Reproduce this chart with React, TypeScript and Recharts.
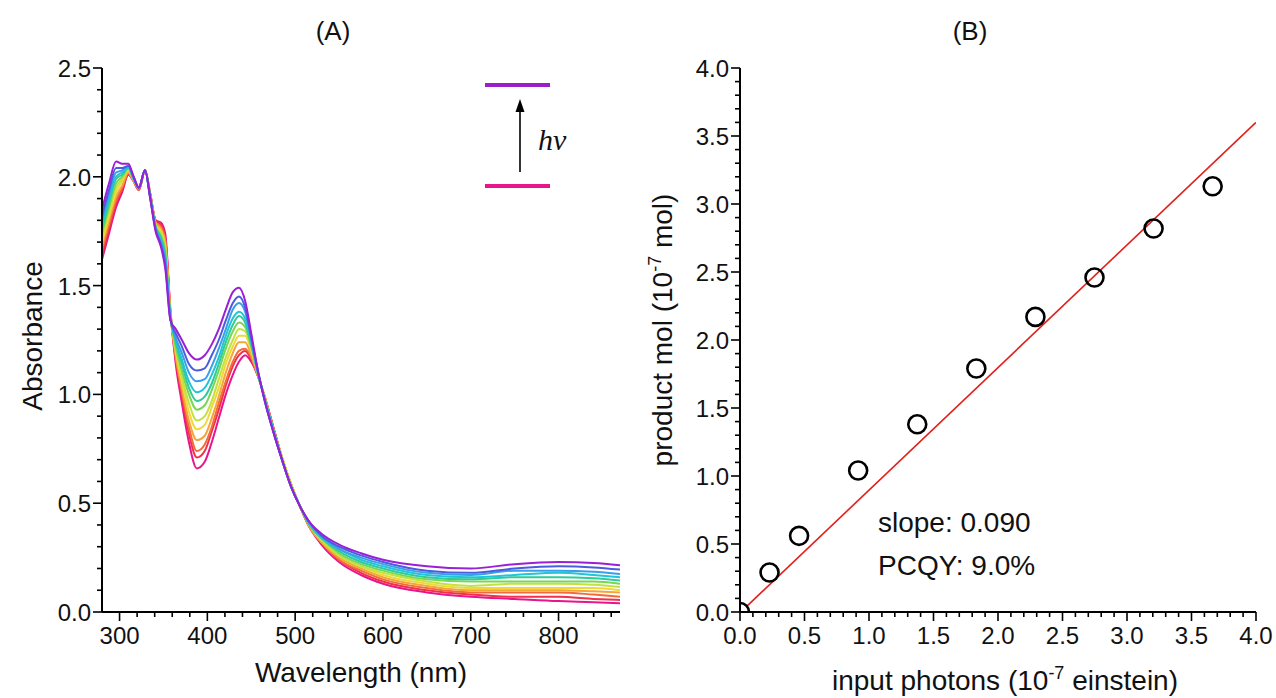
import React from "react";
import { LineChart, Line, XAxis, YAxis, ComposedChart, Scatter } from "recharts";

// ---- panel A: absorption spectra during irradiation ----
const wavelengths = [280, 288, 296, 303, 310, 316, 322, 329, 335, 341, 347, 352, 358, 364, 371, 379, 388, 397, 405, 413, 421, 429, 436, 443, 450, 458, 466, 475, 485, 495, 505, 515, 530, 550, 575, 600, 650, 700, 750, 800, 840, 870];

const scan00 = [1.62, 1.74, 1.86, 1.93, 2.01, 1.98, 1.94, 2.03, 1.92, 1.80, 1.79, 1.74, 1.38, 1.14, 0.96, 0.78, 0.66, 0.69, 0.78, 0.89, 1.00, 1.09, 1.15, 1.18, 1.15, 1.08, 0.98, 0.85, 0.71, 0.59, 0.49, 0.40, 0.31, 0.23, 0.17, 0.13, 0.09, 0.07, 0.06, 0.05, 0.045, 0.04];
const scan01 = [1.64, 1.76, 1.88, 1.94, 2.01, 1.98, 1.94, 2.03, 1.92, 1.80, 1.78, 1.72, 1.38, 1.16, 0.99, 0.82, 0.71, 0.74, 0.83, 0.93, 1.04, 1.13, 1.18, 1.20, 1.16, 1.08, 0.98, 0.85, 0.71, 0.59, 0.49, 0.40, 0.32, 0.24, 0.18, 0.14, 0.10, 0.08, 0.07, 0.07, 0.06, 0.055];
const scan02 = [1.66, 1.78, 1.89, 1.95, 2.02, 1.98, 1.94, 2.03, 1.92, 1.79, 1.77, 1.71, 1.37, 1.17, 1.01, 0.85, 0.74, 0.77, 0.85, 0.96, 1.06, 1.15, 1.20, 1.21, 1.17, 1.08, 0.98, 0.85, 0.71, 0.59, 0.49, 0.40, 0.32, 0.24, 0.19, 0.15, 0.11, 0.09, 0.09, 0.09, 0.08, 0.07];
const scan03 = [1.68, 1.80, 1.91, 1.96, 2.02, 1.98, 1.95, 2.03, 1.91, 1.79, 1.76, 1.70, 1.37, 1.18, 1.03, 0.88, 0.79, 0.81, 0.89, 0.99, 1.10, 1.19, 1.24, 1.24, 1.18, 1.08, 0.98, 0.84, 0.71, 0.59, 0.49, 0.40, 0.32, 0.25, 0.20, 0.16, 0.12, 0.10, 0.10, 0.10, 0.095, 0.09];
const scan04 = [1.70, 1.82, 1.93, 1.98, 2.03, 1.99, 1.95, 2.03, 1.91, 1.78, 1.75, 1.68, 1.37, 1.20, 1.06, 0.92, 0.84, 0.86, 0.94, 1.03, 1.14, 1.22, 1.27, 1.27, 1.20, 1.09, 0.97, 0.84, 0.71, 0.59, 0.49, 0.41, 0.33, 0.26, 0.21, 0.17, 0.13, 0.11, 0.11, 0.11, 0.11, 0.10];
const scan05 = [1.72, 1.84, 1.95, 1.99, 2.03, 1.99, 1.95, 2.03, 1.91, 1.78, 1.74, 1.67, 1.36, 1.21, 1.08, 0.96, 0.88, 0.90, 0.97, 1.07, 1.17, 1.25, 1.30, 1.29, 1.21, 1.09, 0.97, 0.84, 0.71, 0.59, 0.49, 0.41, 0.33, 0.26, 0.21, 0.18, 0.14, 0.12, 0.13, 0.13, 0.125, 0.115];
const scan06 = [1.74, 1.86, 1.97, 2.00, 2.04, 1.99, 1.95, 2.03, 1.91, 1.77, 1.73, 1.66, 1.36, 1.22, 1.11, 1.00, 0.93, 0.95, 1.02, 1.11, 1.21, 1.29, 1.33, 1.31, 1.22, 1.09, 0.97, 0.84, 0.70, 0.58, 0.49, 0.41, 0.34, 0.27, 0.22, 0.19, 0.15, 0.14, 0.14, 0.14, 0.14, 0.13];
const scan07 = [1.76, 1.88, 1.99, 2.01, 2.04, 1.99, 1.95, 2.03, 1.91, 1.77, 1.72, 1.64, 1.36, 1.24, 1.14, 1.03, 0.97, 0.99, 1.05, 1.14, 1.24, 1.32, 1.36, 1.33, 1.23, 1.09, 0.97, 0.84, 0.70, 0.58, 0.49, 0.41, 0.34, 0.28, 0.23, 0.20, 0.16, 0.15, 0.16, 0.16, 0.155, 0.145];
const scan08 = [1.78, 1.90, 2.00, 2.02, 2.04, 1.99, 1.95, 2.03, 1.91, 1.77, 1.71, 1.63, 1.35, 1.25, 1.16, 1.06, 1.01, 1.03, 1.09, 1.17, 1.27, 1.35, 1.38, 1.35, 1.24, 1.09, 0.97, 0.84, 0.70, 0.58, 0.49, 0.41, 0.34, 0.29, 0.24, 0.21, 0.17, 0.16, 0.17, 0.18, 0.17, 0.16];
const scan09 = [1.80, 1.92, 2.02, 2.03, 2.05, 2.00, 1.95, 2.03, 1.90, 1.76, 1.70, 1.62, 1.35, 1.26, 1.19, 1.10, 1.06, 1.07, 1.13, 1.21, 1.30, 1.39, 1.42, 1.38, 1.25, 1.10, 0.96, 0.83, 0.70, 0.58, 0.49, 0.42, 0.35, 0.29, 0.25, 0.22, 0.18, 0.17, 0.19, 0.19, 0.185, 0.175];
const scan10 = [1.82, 1.94, 2.04, 2.04, 2.05, 2.00, 1.95, 2.03, 1.90, 1.76, 1.69, 1.60, 1.34, 1.28, 1.22, 1.14, 1.11, 1.12, 1.18, 1.25, 1.34, 1.42, 1.45, 1.40, 1.26, 1.10, 0.96, 0.83, 0.70, 0.58, 0.49, 0.42, 0.35, 0.30, 0.26, 0.23, 0.19, 0.18, 0.20, 0.21, 0.205, 0.195];
const scan11 = [1.85, 1.97, 2.07, 2.06, 2.06, 2.00, 1.95, 2.03, 1.90, 1.75, 1.68, 1.58, 1.34, 1.30, 1.25, 1.19, 1.16, 1.18, 1.23, 1.30, 1.39, 1.47, 1.49, 1.43, 1.28, 1.10, 0.96, 0.83, 0.70, 0.58, 0.49, 0.42, 0.36, 0.31, 0.27, 0.24, 0.21, 0.20, 0.22, 0.23, 0.225, 0.215];

const scans = [scan00, scan01, scan02, scan03, scan04, scan05, scan06, scan07, scan08, scan09, scan10, scan11];
const scanColors = ["#e8168c", "#f0304c", "#f46a3a", "#f5a63a", "#f0d83a", "#c4e23e", "#78d655", "#2ecc9a", "#22c4d8", "#3a9ee8", "#4a5ce0", "#9a1fd6"];

const nmTicks = [300, 320, 340, 360, 380, 400, 420, 440, 460, 480, 500, 520, 540, 560, 580, 600, 620, 640, 660, 680, 700, 720, 740, 760, 780, 800, 820, 840, 860];
const absTicks = [0, 0.1, 0.2, 0.3, 0.4, 0.5, 0.6, 0.7, 0.8, 0.9, 1.0, 1.1, 1.2, 1.3, 1.4, 1.5, 1.6, 1.7, 1.8, 1.9, 2.0, 2.1, 2.2, 2.3, 2.4, 2.5];

// ---- panel B: product vs photons ----
const photons = [0, 0.229, 0.458, 0.916, 1.374, 1.832, 2.29, 2.748, 3.206, 3.664];
const productMol = [0, 0.29, 0.56, 1.04, 1.38, 1.79, 2.17, 2.46, 2.82, 3.13];
const fitX = [0.05, 4.0];
const fitY = [0.04, 3.6];
const quarterTicks = [0, 0.1, 0.2, 0.3, 0.4, 0.5, 0.6, 0.7, 0.8, 0.9, 1.0, 1.1, 1.2, 1.3, 1.4, 1.5, 1.6, 1.7, 1.8, 1.9, 2.0, 2.1, 2.2, 2.3, 2.4, 2.5, 2.6, 2.7, 2.8, 2.9, 3.0, 3.1, 3.2, 3.3, 3.4, 3.5, 3.6, 3.7, 3.8, 3.9, 4.0];

const FONT = "'Liberation Sans', Arial, sans-serif";
const TICK_FS = 24;
const TITLE_FS = 28;

const spectraRows = wavelengths.map((nm, j) => {
  const row: Record<string, number> = { nm };
  scans.forEach((s, i) => (row[`s${i}`] = s[j]));
  return row;
});
const points = photons.map((x, i) => ({ x, y: productMol[i] }));
const fitLine = fitX.map((x, i) => ({ x, y: fitY[i] }));

const isHalf = (v: number) => Math.abs(v * 2 - Math.round(v * 2)) < 1e-6;
const isHundred = (v: number) => v % 100 === 0;

function leftTick(major: (v: number) => boolean) {
  return (props: any) => {
    const { x, y, payload } = props;
    const v = payload.value as number;
    const m = major(v);
    return (
      <g>
        <line x1={x} y1={y} x2={x - (m ? 9 : 5)} y2={y} stroke="#000" strokeWidth={1.6} />
        {m && (
          <text x={x - 11} y={y + 9} textAnchor="end" fontSize={TICK_FS} fontFamily={FONT} fill="#111">
            {v.toFixed(1)}
          </text>
        )}
      </g>
    );
  };
}

function bottomTick(major: (v: number) => boolean, fmt: (v: number) => string) {
  return (props: any) => {
    const { x, y, payload } = props;
    const v = payload.value as number;
    const m = major(v);
    return (
      <g>
        <line x1={x} y1={y} x2={x} y2={y + (m ? 9 : 5)} stroke="#000" strokeWidth={1.6} />
        {m && (
          <text x={x} y={y + 32} textAnchor="middle" fontSize={TICK_FS} fontFamily={FONT} fill="#111">
            {fmt(v)}
          </text>
        )}
      </g>
    );
  };
}

const axisLine = { stroke: "#000", strokeWidth: 2 };

function SpectraPanel() {
  return (
    <LineChart width={640} height={698} data={spectraRows} margin={{ top: 68, right: 20, bottom: 26, left: 0 }}>
      <XAxis
        type="number"
        dataKey="nm"
        domain={[280, 870]}
        ticks={nmTicks}
        interval={0}
        height={60}
        tickSize={0}
        tickMargin={0}
        axisLine={axisLine}
        tickLine={false}
        tick={bottomTick(isHundred, (v) => String(v))}
      />
      <YAxis
        type="number"
        domain={[0, 2.5]}
        ticks={absTicks}
        interval={0}
        width={102}
        tickSize={0}
        tickMargin={0}
        axisLine={axisLine}
        tickLine={false}
        tick={leftTick(isHalf)}
      />
      {scans.map((_, i) => (
        <Line
          key={i}
          type="monotone"
          dataKey={`s${i}`}
          stroke={scanColors[i]}
          strokeWidth={2}
          dot={false}
          isAnimationActive={false}
        />
      ))}
      <text x={333} y={40} textAnchor="middle" fontSize={26} fontFamily={FONT} fill="#111">(A)</text>
      <text transform="translate(42,336) rotate(-90)" textAnchor="middle" fontSize={TITLE_FS} fontFamily={FONT} fill="#111">
        Absorbance
      </text>
      <text x={361} y={682} textAnchor="middle" fontSize={TITLE_FS} fontFamily={FONT} fill="#111">
        Wavelength (nm)
      </text>
      {/* irradiation scheme */}
      <line x1={485} y1={85} x2={550} y2={85} stroke="#9a1fc8" strokeWidth={4} />
      <line x1={485} y1={186} x2={550} y2={186} stroke="#e8168c" strokeWidth={4} />
      <line x1={520} y1={172} x2={520} y2={108} stroke="#000" strokeWidth={1.6} />
      <polygon points="520,99 515.5,112 524.5,112" fill="#000" />
      <text x={538} y={150} fontSize={30} fontStyle="italic" fontFamily="'Liberation Serif', serif" fill="#111">
        hν
      </text>
    </LineChart>
  );
}

function YieldPanel() {
  return (
    <ComposedChart width={636} height={698} margin={{ top: 68, right: 20, bottom: 26, left: 0 }}>
      <XAxis
        type="number"
        dataKey="x"
        domain={[0, 4]}
        ticks={quarterTicks}
        interval={0}
        height={60}
        tickSize={0}
        tickMargin={0}
        axisLine={axisLine}
        tickLine={false}
        allowDataOverflow
        tick={bottomTick(isHalf, (v) => v.toFixed(1))}
      />
      <YAxis
        type="number"
        dataKey="y"
        domain={[0, 4]}
        ticks={quarterTicks}
        interval={0}
        width={100}
        tickSize={0}
        tickMargin={0}
        axisLine={axisLine}
        tickLine={false}
        allowDataOverflow
        tick={leftTick(isHalf)}
      />
      <Line data={fitLine} dataKey="y" stroke="#e0201a" strokeWidth={1.6} dot={false} isAnimationActive={false} />
      <Scatter
        data={points}
        dataKey="y"
        isAnimationActive={false}
        shape={(p: any) => <circle cx={p.cx} cy={p.cy} r={9} fill="none" stroke="#000" strokeWidth={2.6} />}
      />
      <text x={330} y={40} textAnchor="middle" fontSize={26} fontFamily={FONT} fill="#111">(B)</text>
      <text transform="translate(32,330) rotate(-90)" textAnchor="middle" fontSize={TITLE_FS} fontFamily={FONT} fill="#111">
        product mol (10
        <tspan fontSize={18} dy={-11}>-7</tspan>
        <tspan dy={11}> mol)</tspan>
      </text>
      <text x={365} y={690} textAnchor="middle" fontSize={TITLE_FS} fontFamily={FONT} fill="#111">
        input photons (10
        <tspan fontSize={18} dy={-11}>-7</tspan>
        <tspan dy={11}> einstein)</tspan>
      </text>
      <text x={238} y={532} fontSize={TITLE_FS} fontFamily={FONT} fill="#111">slope: 0.090</text>
      <text x={238} y={575} fontSize={TITLE_FS} fontFamily={FONT} fill="#111">PCQY: 9.0%</text>
    </ComposedChart>
  );
}

export default function App() {
  return (
    <div style={{ position: "absolute", left: 0, top: 0, width: 1276, height: 698, background: "#fff", fontFamily: FONT }}>
      <div style={{ position: "absolute", left: 0, top: 0 }}>
        <SpectraPanel />
      </div>
      <div style={{ position: "absolute", left: 640, top: 0 }}>
        <YieldPanel />
      </div>
    </div>
  );
}
